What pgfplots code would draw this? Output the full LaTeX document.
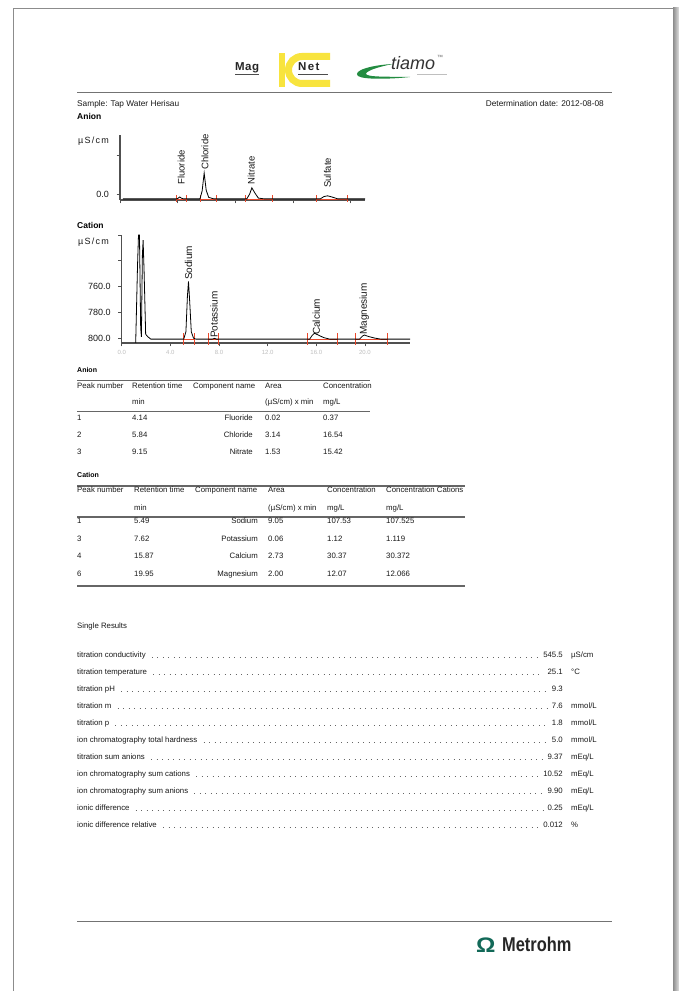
\documentclass[border=0pt]{standalone}
\usepackage{pgfplots}
\pgfplotsset{compat=1.18}
\usetikzlibrary{calc}
\usepackage{fontspec}
\setmainfont{Liberation Sans}
\definecolor{ired}{RGB}{235,72,42}
\definecolor{axg}{RGB}{80,80,80}
\definecolor{txt}{RGB}{25,25,25}
\definecolor{icy}{RGB}{248,228,62}
\definecolor{tgr}{RGB}{35,140,65}
\definecolor{mteal}{RGB}{18,105,88}
\newcommand\fs[1]{\fontsize{#1}{#1}\selectfont}
\newcommand\TL[3]{\node[anchor=base west,inner sep=0,text=txt,font=\fs{7.8}] at (#1,#2) {#3};}
\newcommand\TR[3]{\node[anchor=base east,inner sep=0,text=txt,font=\fs{7.8}] at (#1,#2) {#3};}
\newcommand\SR[5]{%
  \node[anchor=base west,inner sep=0,text=txt,font=\fs{7.8}] (l#1) at (77,#2) {#3};
  \node[anchor=base east,inner sep=0,text=txt,font=\fs{7.8}] (v#1) at (563,#2) {#4};
  \node[anchor=base west,inner sep=0,text=txt,font=\fs{7.8}] at (571,#2) {#5};
  \draw[black!60,line width=0.9pt,dash pattern=on 0.9pt off 4.6pt] ([xshift=6pt,yshift=1pt]l#1.base east) -- ([xshift=-4pt,yshift=1pt]v#1.base west);}
\pgfplotsset{chrom/.style={scale only axis, clip=false,
  axis x line*=bottom, axis y line*=left,
  axis line style={axg,line width=1.3pt},
  tick style={axg,line width=0.8pt}, tick align=outside, major tick length=3.5pt,
  yticklabel style={font=\fs{9},text=txt,xshift=-4pt},
  xticklabel style={font=\fs{6},text=black!25},
  }}
\begin{document}
\begin{tikzpicture}
\useasboundingbox (0,0) rectangle (679pt,991pt);
\fill[white] (0,0) rectangle (679pt,991pt);
\begin{scope}[x=1pt,y=-1pt,shift={(0pt,991pt)}]
% page border
\draw[black!45,line width=1.4pt] (13.5,991) -- (13.5,8.5) -- (673.5,8.5);
\shade[left color=black!45,right color=black!12] (673,8) rectangle (679,991);
% MagIC Net logo
\fill[icy] (279,53) rectangle (285,87);
\draw[icy,line width=7pt] (330,56.5) -- (302,56.5) arc[start angle=270, end angle=90, radius=13.5] -- (330,83.5);
\node[anchor=base west,inner sep=0,font=\bfseries\fs{11.5},text=black!85] at (235,71) {\addfontfeatures{LetterSpace=4}Mag};
\draw[black!70,line width=1pt] (235,74.5) -- (259,74.5);
\node[anchor=base west,inner sep=0,font=\bfseries\fs{11.5},text=black!85] at (298,71) {\addfontfeatures{LetterSpace=12}Net};
\draw[black!70,line width=1pt] (298,74.5) -- (328,74.5);
% tiamo logo
\fill[tgr] (393,64) .. controls (372,65) and (352,70.5) .. (358,76) .. controls (364,80) and (392,79) .. (410,77) .. controls (390,76.5) and (365,77.5) .. (366,73.5) .. controls (368,70) and (380,66.5) .. (393,64) -- cycle;
\node[anchor=base west,inner sep=0,font=\itshape\fs{18},text=black!80] at (391,70) {tiamo};
\node[anchor=base west,inner sep=0,font=\fs{6},text=black!60] at (437,60) {\texttrademark};
\draw[black!25,line width=0.8pt] (417,74) -- (447,74);
% header
\draw[black!55,line width=1pt] (77,93) -- (612,93);
\node[anchor=base west,inner sep=0,text=txt,font=\fs{8.3}] at (77,107) {Sample: Tap Water Herisau};
\node[anchor=base east,inner sep=0,text=txt,font=\fs{8.3}] at (604,107) {Determination date: 2012-08-08};
\node[anchor=base west,inner sep=0,text=black,font=\bfseries\fs{8.5}] at (77,120) {Anion};
\node[anchor=base west,inner sep=0,text=txt,font=\fs{9}] at (78,144) {\addfontfeatures{LetterSpace=14}µS/cm};
\node[anchor=base west,inner sep=0,text=black,font=\bfseries\fs{8.5}] at (77,229) {Cation};
\node[anchor=base west,inner sep=0,text=txt,font=\fs{9}] at (78,245) {\addfontfeatures{LetterSpace=14}µS/cm};
% Anion table
\node[anchor=base west,inner sep=0,text=black,font=\bfseries\fs{7}] at (77,373) {Anion};
\draw[black!60,line width=1.3pt] (77,380.5) -- (370,380.5);
\TL{77}{389}{Peak number}\TL{132}{389}{Retention time}\TL{193}{389}{Component name}\TL{265}{389}{Area}\TL{323}{389}{Concentration}
\TL{132}{405}{min}\TL{265}{405}{(µS/cm) x min}\TL{323}{405}{mg/L}
\draw[black!60,line width=1.3pt] (77,411.5) -- (370,411.5);
\TL{77}{421}{1}\TL{132}{421}{4.14}\TR{253}{421}{Fluoride}\TL{265}{421}{0.02}\TL{323}{421}{0.37}
\TL{77}{438}{2}\TL{132}{438}{5.84}\TR{253}{438}{Chloride}\TL{265}{438}{3.14}\TL{323}{438}{16.54}
\TL{77}{455}{3}\TL{132}{455}{9.15}\TR{253}{455}{Nitrate}\TL{265}{455}{1.53}\TL{323}{455}{15.42}
% Cation table
\node[anchor=base west,inner sep=0,text=black,font=\bfseries\fs{7}] at (77,478) {Cation};
\draw[black!60,line width=1.3pt] (77,486) -- (465,486);
\TL{77}{493}{Peak number}\TL{134}{493}{Retention time}\TL{195}{493}{Component name}\TL{268}{493}{Area}\TL{327}{493}{Concentration}\TL{386}{493}{Concentration Cations}
\TL{134}{511}{min}\TL{268}{511}{(µS/cm) x min}\TL{327}{511}{mg/L}\TL{386}{511}{mg/L}
\draw[black!60,line width=1.3pt] (77,517) -- (465,517);
\TL{77}{524}{1}\TL{134}{524}{5.49}\TR{258}{524}{Sodium}\TL{268}{524}{9.05}\TL{327}{524}{107.53}\TL{386}{524}{107.525}
\TL{77}{541.5}{3}\TL{134}{541.5}{7.62}\TR{258}{541.5}{Potassium}\TL{268}{541.5}{0.06}\TL{327}{541.5}{1.12}\TL{386}{541.5}{1.119}
\TL{77}{559}{4}\TL{134}{559}{15.87}\TR{258}{559}{Calcium}\TL{268}{559}{2.73}\TL{327}{559}{30.37}\TL{386}{559}{30.372}
\TL{77}{576.5}{6}\TL{134}{576.5}{19.95}\TR{258}{576.5}{Magnesium}\TL{268}{576.5}{2.00}\TL{327}{576.5}{12.07}\TL{386}{576.5}{12.066}
\draw[black!60,line width=1.3pt] (77,586) -- (465,586);
% Single results
\TL{77}{629}{Single Results}
\SR{a}{658}{titration conductivity}{545.5}{µS/cm}
\SR{b}{675}{titration temperature}{25.1}{°C}
\SR{c}{692}{titration pH}{9.3}{}
\SR{d}{709}{titration m}{7.6}{mmol/L}
\SR{e}{726}{titration p}{1.8}{mmol/L}
\SR{f}{743}{ion chromatography total hardness}{5.0}{mmol/L}
\SR{g}{760}{titration sum anions}{9.37}{mEq/L}
\SR{h}{777}{ion chromatography sum cations}{10.52}{mEq/L}
\SR{i}{794}{ion chromatography sum anions}{9.90}{mEq/L}
\SR{j}{811}{ionic difference}{0.25}{mEq/L}
\SR{k}{828}{ionic difference relative}{0.012}{\%}
% footer
\draw[black!55,line width=1pt] (77,921.5) -- (612,921.5);
\node[anchor=base west,inner sep=0,text=mteal,font=\bfseries\fs{21}] at (476,952.5) {\scalebox{1.15}[1]{Ω}};
\node[anchor=base west,inner sep=0,text=black!85,font=\bfseries\fs{20}] at (502,952) {\scalebox{0.82}[1]{Metrohm}};
\end{scope}
% Anion chromatogram
\begin{axis}[chrom, at={(120pt,791pt)}, anchor=south west, width=245pt, height=65pt,
  xmin=0,xmax=17,ymin=-0.16,ymax=1.55, xtick={0,4,8,12,16}, xticklabels={},
  ytick={0,1}, yticklabels={0.0,}]
\addplot[ired,line width=0.6pt] coordinates {(3.94,-0.13) (4.63,-0.13)};
\addplot[ired,line width=0.6pt] coordinates {(5.56,-0.13) (6.67,-0.13)};
\addplot[ired,line width=0.6pt] coordinates {(8.68,-0.13) (10.55,-0.13)};
\addplot[ired,line width=0.6pt] coordinates {(13.66,-0.13) (15.76,-0.13)};
\foreach \r in {3.94,4.63,5.56,6.67,8.68,10.55,13.66,15.76}{
  \edef\tmp{\noexpand\addplot[ired,line width=0.8pt] coordinates {(\r,-0.03) (\r,-0.21)};}\tmp}
\addplot[black,line width=0.8pt] coordinates {
(0.2,-0.13) (3.95,-0.13) (4.05,-0.11) (4.14,-0.08) (4.25,-0.11) (4.4,-0.13)
(5.55,-0.13) (5.7,0.08) (5.84,0.55) (5.98,0.1) (6.15,-0.09) (6.5,-0.13)
(8.8,-0.13) (9.0,0.0) (9.15,0.16) (9.35,0.03) (9.6,-0.11) (10.0,-0.13)
(13.9,-0.13) (14.15,-0.07) (14.4,-0.05) (14.7,-0.08) (15.1,-0.13) (17,-0.13)};
\node[rotate=90,anchor=west,inner sep=0,font=\fs{9.5},text=txt] at (axis cs:4.24,0.24) {Fluoride};
\node[rotate=90,anchor=west,inner sep=0,font=\fs{9.5},text=txt] at (axis cs:5.9,0.63) {Chloride};
\node[rotate=90,anchor=west,inner sep=0,font=\fs{9.5},text=txt] at (axis cs:9.1,0.24) {Nitrate};
\node[rotate=90,anchor=west,inner sep=0,font=\fs{9.5},text=txt] at (axis cs:14.4,0.16) {Sulfate};
\end{axis}
% Cation chromatogram
\begin{axis}[chrom, at={(121.7pt,648pt)}, anchor=south west, width=288.3pt, height=108pt,
  xmin=0,xmax=23.7,ymin=-0.19,ymax=4, xtick={0,4,8,12,16,20}, xticklabels={0.0,4.0,8.0,12.0,16.0,20.0},
  ytick={0,1,2,3,4}, yticklabels={800.0,780.0,760.0,,}]
\addplot[ired,line width=0.7pt] coordinates {(5.11,-0.04) (6.0,-0.04)};
\addplot[ired,line width=0.7pt] coordinates {(7.16,-0.04) (7.92,-0.04)};
\addplot[ired,line width=0.7pt] coordinates {(15.3,-0.04) (17.7,-0.04)};
\addplot[ired,line width=0.7pt] coordinates {(19.18,-0.04) (21.85,-0.04)};
\foreach \r in {5.11,6.0,7.16,7.92,15.3,17.7,19.18,21.85}{
  \edef\tmp{\noexpand\addplot[ired,line width=0.9pt] coordinates {(\r,0.19) (\r,-0.27)};}\tmp}
\addplot[black,line width=0.8pt] coordinates {
(1.15,-0.19) (1.3,2.8) (1.38,4.0) (1.46,4.0) (1.56,0.4) (1.62,0.05) (1.7,3.2) (1.76,3.8) (1.84,2.6) (1.97,0.15) (2.15,0.05) (2.4,-0.04)
(5.1,-0.04) (5.28,0.25) (5.4,1.6) (5.49,2.2) (5.58,1.5) (5.72,0.25) (5.9,0.0) (6.1,-0.04)
(7.45,-0.04) (7.62,-0.01) (7.8,-0.04)
(15.45,-0.04) (15.65,0.1) (15.85,0.19) (16.15,0.12) (16.6,0.02) (17.1,-0.04)
(19.55,-0.04) (19.8,0.08) (19.95,0.12) (20.3,0.06) (20.8,0.0) (21.3,-0.04) (23.7,-0.04)};
\node[rotate=90,anchor=west,inner sep=0,font=\fs{10},text=txt] at (axis cs:5.49,2.25) {Sodium};
\node[rotate=90,anchor=west,inner sep=0,font=\fs{10},text=txt] at (axis cs:7.6,0.0) {Potassium};
\node[rotate=90,anchor=west,inner sep=0,font=\fs{10},text=txt] at (axis cs:16.0,0.12) {Calcium};
\node[rotate=90,anchor=west,inner sep=0,font=\fs{10},text=txt] at (axis cs:19.95,0.12) {Magnesium};
\end{axis}
\end{tikzpicture}
\end{document}
